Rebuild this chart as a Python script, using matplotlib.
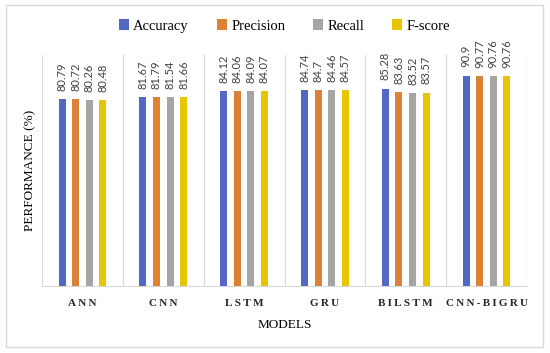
import numpy as np
import matplotlib.pyplot as plt
from matplotlib.patches import Rectangle

models = ['ANN', 'CNN', 'LSTM', 'GRU', 'BILSTM', 'CNN-BIGRU']
series = ['Accuracy', 'Precision', 'Recall', 'F-score']
accuracy = [80.79, 81.67, 84.12, 84.74, 85.28, 90.9]
precision = [80.72, 81.79, 84.06, 84.7, 83.63, 90.77]
recall = [80.26, 81.54, 84.09, 84.46, 83.52, 90.76]
fscore = [80.48, 81.66, 84.07, 84.57, 83.57, 90.76]
colors = ['#5368C2', '#DC8236', '#A5A5A5', '#E6C600']

serif = ['Liberation Serif', 'DejaVu Serif']

fig = plt.figure(figsize=(5.5, 3.53), dpi=100)
fig.patches.append(Rectangle((6/550, 1-347/353), 537/550, 342/353, transform=fig.transFigure,
                             fill=False, edgecolor='#D9D9D9', linewidth=1.0))
ax = fig.add_axes([42/550, 1-286/353, 485/550, 231.5/353])

x = np.arange(len(models))
w = 0.087
step = 0.168
for i, (name, vals) in enumerate(zip(series, [accuracy, precision, recall, fscore])):
    pos = x + (i - 1.5) * step
    ax.bar(pos, vals, w, color=colors[i], label=name, zorder=3)
    for p, v in zip(pos, vals):
        ax.text(p, v + 3.5, '{:g}'.format(v), rotation=90, ha='center', va='bottom',
                fontsize=8, family=['Lato', 'DejaVu Sans'], color='#404040')

ax.set_xlim(-0.5, len(models) - 0.5)
ax.set_ylim(0, 100)
for b in np.arange(-0.5, len(models) + 0.5):
    ax.axvline(b, color='#D9D9D9', linewidth=0.9, zorder=1)
for s in ['top', 'right', 'left']:
    ax.spines[s].set_visible(False)
ax.spines['bottom'].set_color('#D9D9D9')
ax.set_yticks([])
ax.set_xticks(x)
ax.set_xticklabels(['\u2009'.join(m) for m in models], fontsize=8, fontweight='bold',
                   family=serif, color='#262626')
ax.tick_params(axis='x', length=0, pad=9)
ax.set_xlabel('MODELS', fontsize=9.5, family=serif, labelpad=8)
ax.set_ylabel('PERFORMANCE (%)', fontsize=9.5, family=serif, labelpad=4)

ax.legend(loc='center', bbox_to_anchor=(0.5, 1.123), ncol=4, frameon=False,
          prop={'family': serif, 'size': 10.5}, handlelength=0.7, handleheight=0.7,
          handletextpad=0.3, columnspacing=1.9)

fig.savefig('out.png', dpi=100)
